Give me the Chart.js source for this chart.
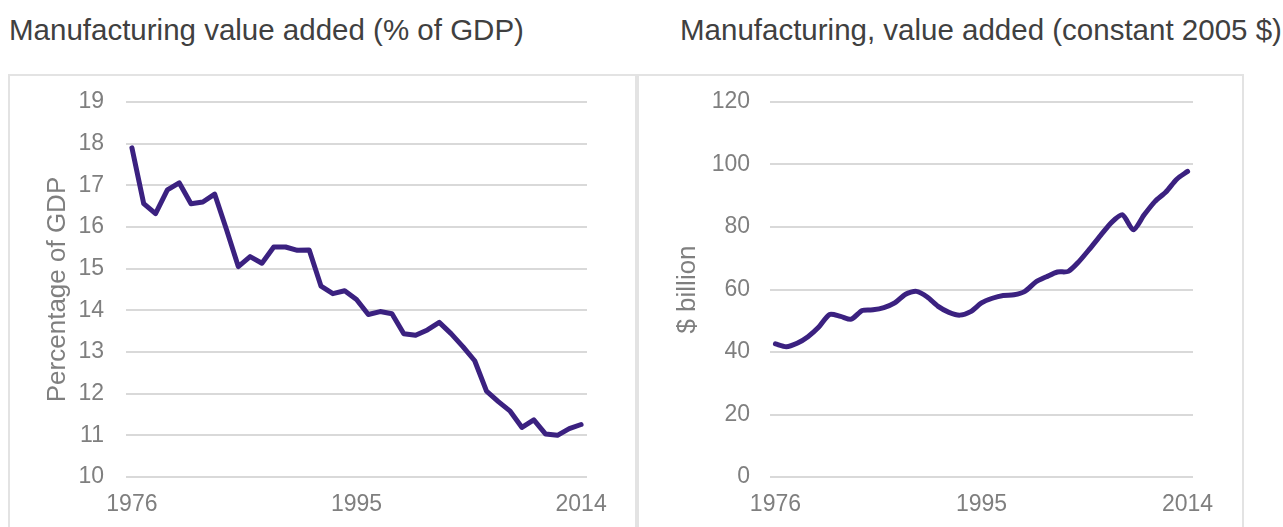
<!DOCTYPE html>
<html>
<head>
<meta charset="utf-8">
<script src="https://cdn.jsdelivr.net/npm/chart.js@4"></script>
<style>
  body { margin: 0; width: 1283px; height: 527px; overflow: hidden; background: #fff; font-family: "Liberation Sans", Arial, sans-serif; }
  .subtitle { position: absolute; top: 15px; font-size: 29.5px; line-height: 29px; color: #404040; white-space: nowrap; }
  .panel { position: absolute; top: 74px; height: 470px; border: 2px solid #e3e3e3; box-sizing: border-box; }
  .panel canvas { position: absolute; left: 0; top: 0; }
</style>
</head>
<body>
<div class="subtitle" style="left: 9px;">Manufacturing value added (% of GDP)</div>
<div class="subtitle" style="left: 680px;">Manufacturing, value added (constant 2005 $)</div>

<div class="panel" style="left: 8px; width: 629px;">
  <canvas id="shareChart"></canvas>
</div>
<div class="panel" style="left: 637px; width: 607px;">
  <canvas id="valueChart"></canvas>
</div>

<script>
const years = [];
for (let y = 1976; y <= 2014; y++) years.push(String(y));
const shownYears = ["1976", "1995", "2014"];

// % of GDP
const shareOfGdp = [
  17.9, 16.56, 16.32, 16.89, 17.06, 16.56, 16.6, 16.79, 15.94, 15.05,
  15.29, 15.13, 15.52, 15.52, 15.44, 15.45, 14.58, 14.4, 14.47, 14.26,
  13.9, 13.97, 13.92, 13.44, 13.4, 13.53, 13.71, 13.44, 13.13, 12.79,
  12.06, 11.81, 11.58, 11.19, 11.37, 11.03, 11.0, 11.16, 11.26,
];

// $ billion, constant 2005
const valueAdded = [
  42.6, 41.7, 42.8, 44.9, 48.0, 52.0, 51.4, 50.5, 53.3, 53.5,
  54.2, 55.7, 58.5, 59.4, 57.6, 54.6, 52.7, 51.8, 52.9, 55.7,
  57.2, 58.1, 58.3, 59.4, 62.4, 64.1, 65.6, 65.8, 69.0, 73.1,
  77.4, 81.5, 83.9, 79.1, 83.9, 88.2, 91.2, 95.3, 97.8,
];

const shareTicks = { min: 10, max: 19, step: 1 };
const valueTicks = { min: 0, max: 120, step: 20 };

const lineColor = "#3b2180";
const gridColor = "#d9d9d9";
const tickColor = "#7f7f7f";
const fontFamily = "'Liberation Sans', Arial, sans-serif";

function makeChart(id, data, range, title, opts) {
  const canvas = document.getElementById(id);
  canvas.width = opts.width;
  canvas.height = 452;
  canvas.style.width = opts.width + "px";
  canvas.style.height = "452px";

  return new Chart(canvas.getContext("2d"), {
    type: "line",
    data: {
      labels: years,
      datasets: [
        {
          data: data,
          borderColor: lineColor,
          borderWidth: 5,
          pointRadius: 0,
          tension: opts.tension,
          fill: false,
          borderCapStyle: "round",
          borderJoinStyle: "round",
        },
      ],
    },
    options: {
      responsive: false,
      animation: false,
      layout: { padding: { top: 26, right: opts.right, left: 0, bottom: 0 } },
      plugins: { legend: { display: false }, tooltip: { enabled: false } },
      scales: {
        x: {
          offset: true,
          grid: { display: false, drawTicks: false },
          border: { display: false },
          ticks: {
            autoSkip: false,
            maxRotation: 0,
            padding: 14,
            color: tickColor,
            font: { family: fontFamily, size: 23 },
            callback: (v, i) => (shownYears.includes(years[i]) ? years[i] : null),
          },
          afterFit: (scale) => {
            scale.height = 51;
            scale.paddingLeft = 0;
            scale.paddingRight = 0;
          },
        },
        y: {
          min: range.min,
          max: range.max,
          grid: { color: gridColor, lineWidth: 2, drawTicks: false },
          border: { display: false },
          ticks: {
            stepSize: range.step,
            padding: opts.tickPad,
            color: tickColor,
            font: { family: fontFamily, size: 23 },
          },
          title: {
            display: true,
            text: title,
            color: tickColor,
            font: { family: fontFamily, size: 26 },
            padding: { top: opts.titlePad, bottom: 0 },
          },
          afterFit: (scale) => {
            scale.width = opts.axisWidth;
            scale.paddingTop = 0;
            scale.paddingBottom = 0;
          },
        },
      },
    },
  });
}

makeChart("shareChart", shareOfGdp, shareTicks, "Percentage of GDP", {
  width: 625, right: 48, axisWidth: 116, tickPad: 22, titlePad: 32, tension: 0,
});
makeChart("valueChart", valueAdded, valueTicks, "$ billion", {
  width: 603, right: 49, axisWidth: 131, tickPad: 20, titlePad: 33, tension: 0.25,
});
</script>
</body>
</html>
